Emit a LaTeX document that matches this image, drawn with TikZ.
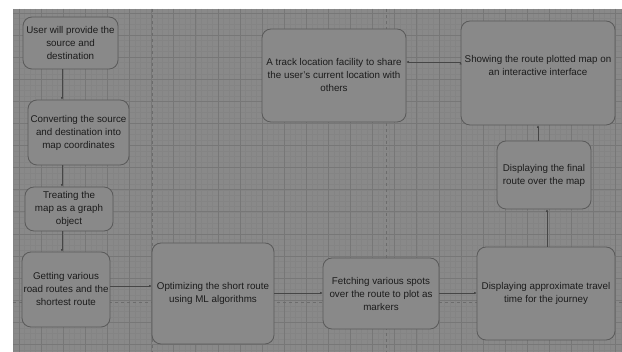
\documentclass[tikz,border=0pt]{standalone}
\usepackage{fontspec}
\setmainfont{Liberation Sans}
\usetikzlibrary{arrows.meta}
\definecolor{pagegray}{RGB}{137,137,137}
\definecolor{minorgrid}{RGB}{132,132,132}
\definecolor{majorgrid}{RGB}{119,119,119}
\definecolor{pageline}{RGB}{108,108,108}
\definecolor{boxline}{RGB}{90,90,90}
\definecolor{inktext}{RGB}{28,28,28}
\definecolor{flowline}{RGB}{70,70,70}
\begin{document}
\begin{tikzpicture}[x=1pt,y=-1pt,
  main node/.style={draw=boxline,fill=pagegray,line width=0.8pt,rounded corners=9pt,
    align=center,inner sep=0pt,text=inktext,font=\fontsize{9.8}{13}\selectfont},
  flow/.style={draw=flowline,line width=0.9pt,-{Latex[length=2.5pt,width=2.5pt]}}]
  \useasboundingbox (0,0) rectangle (622,352);
  \fill[white] (0,0) rectangle (622,352);
  \fill[pagegray] (13,9) rectangle (622,352);
  \begin{scope}
    \clip (13,9) rectangle (622,352);
    \foreach \i in {-2,...,120}
      \draw[minorgrid,line width=0.25pt] ({18.9+5.525*\i},9) -- ++(0,343);
    \foreach \i in {-2,...,68}
      \draw[minorgrid,line width=0.25pt] (13,{12.9+5.525*\i}) -- ++(609,0);
    \foreach \i in {-1,...,28}
      \draw[majorgrid,line width=0.6pt] ({18.9+22.1*\i},9) -- ++(0,343);
    \foreach \i in {-1,...,16}
      \draw[majorgrid,line width=0.6pt] (13,{12.9+22.1*\i}) -- ++(609,0);
  \end{scope}
  % page breaks
  \draw[pageline,dashed,line width=0.5pt] (152,9) -- (152,352);
  \draw[pageline,dashed,line width=0.5pt] (386,9) -- (386,352);
  \draw[pageline,dashed,line width=0.5pt] (13,302) -- (622,302);

  \node[main node,minimum width=95pt,minimum height=52pt] (1) at (70.5,43)
    {User will provide the\\source and\\destination};
  \node[main node,minimum width=101pt,minimum height=65pt] (2) at (78.5,132.5)
    {Converting the source\\and destination into\\map coordinates};
  \node[main node,minimum width=88pt,minimum height=44pt] (3) at (69,209)
    {Treating the\\map as a graph\\object};
  \node[main node,minimum width=88pt,minimum height=75pt] (4) at (66,289.5)
    {Getting various\\road routes and the\\shortest route};
  \node[main node,minimum width=122pt,minimum height=101pt] (5) at (213,293.5)
    {Optimizing the short route\\using ML algorithms};
  \node[main node,minimum width=116pt,minimum height=71pt] (6) at (381,293.5)
    {Fetching various spots\\over the route to plot as\\markers};
  \node[main node,minimum width=138pt,minimum height=93pt] (7) at (546,293.5)
    {Displaying approximate travel\\time for the journey};
  \node[main node,minimum width=94pt,minimum height=68pt] (8) at (544,175)
    {Displaying the final\\route over the map};
  \node[main node,minimum width=154pt,minimum height=104pt] (9) at (538,73)
    {Showing the route plotted map on\\an interactive interface\\[3pt]};
  \node[main node,minimum width=144pt,minimum height=93pt] (10) at (334,75.5)
    {A track location facility to share\\the user's current location with\\others};

  \path[flow]
   (1.south -| 62,0) edge (2.north -| 62,0)
   (2.south -| 62,0) edge (3.north -| 62,0)
   (3.south -| 62,0) edge (4.north -| 62,0)
   (4.east |- 0,286) edge (5.west |- 0,286)
   (5.east |- 0,293) edge (6.west |- 0,293)
   (6.east |- 0,293) edge (7.west |- 0,293)
   (7.north -| 547,0) edge (8.south -| 547,0)
   (8.north -| 538,0) edge (9.south -| 538,0)
   (9.west |- 0,62) edge (10.east |- 0,62);
\end{tikzpicture}
\end{document}
